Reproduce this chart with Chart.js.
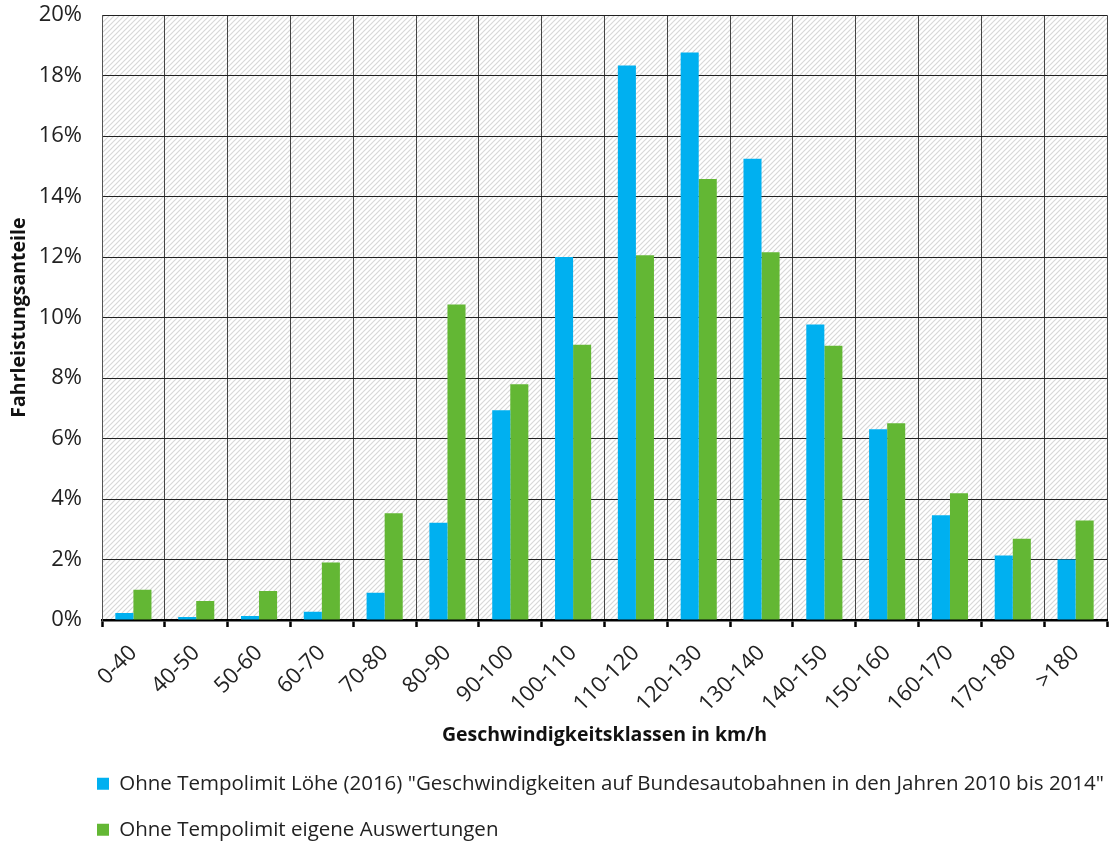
<!DOCTYPE html>
<html>
<head>
<meta charset="utf-8">
<script src="https://cdn.jsdelivr.net/npm/chart.js@4/dist/chart.umd.min.js"></script>
<style>
  html, body { margin: 0; padding: 0; background: #fff; }
  #wrap { width: 1119px; height: 841px; }
</style>
</head>
<body>
<div id="wrap"><canvas id="chart"></canvas></div>
<script>
const categories = ['0-40', '40-50', '50-60', '60-70', '70-80', '80-90', '90-100', '100-110',
    '110-120', '120-130', '130-140', '140-150', '150-160', '160-170', '170-180', '>180'];
const loeheValues = [0.23, 0.1, 0.13, 0.27, 0.9, 3.22, 6.94, 12.0, 18.34, 18.77, 15.25, 9.77, 6.31, 3.46, 2.13, 2.0];
const eigeneValues = [1.0, 0.63, 0.96, 1.9, 3.53, 10.43, 7.8, 9.1, 12.06, 14.58, 12.16, 9.07, 6.51, 4.19, 2.69, 3.29];
const seriesLabels = [
    'Ohne Tempolimit Löhe (2016) "Geschwindigkeiten auf Bundesautobahnen in den Jahren 2010 bis 2014"',
    'Ohne Tempolimit eigene Auswertungen'
];
const yTicks = [0, 2, 4, 6, 8, 10, 12, 14, 16, 18, 20];

const FONT = "'Open Sans', sans-serif";

// diagonal hatch behind the plot area
const makeHatch = (ctx) => {
    const s = 5;
    const c = document.createElement('canvas');
    c.width = s; c.height = s;
    const g = c.getContext('2d');
    g.fillStyle = '#ffffff';
    g.fillRect(0, 0, s, s);
    g.strokeStyle = '#d8d8d8';
    g.lineWidth = 1.2;
    g.beginPath();
    g.moveTo(-1, s + 1); g.lineTo(s + 1, -1);
    g.moveTo(-1, 1); g.lineTo(1, -1);
    g.moveTo(s - 1, s + 1); g.lineTo(s + 1, s - 1);
    g.stroke();
    return ctx.createPattern(c, 'repeat');
};

const hatchPlugin = {
    id: 'hatch',
    beforeDraw(chart) {
        const { ctx, chartArea: a } = chart;
        ctx.save();
        ctx.fillStyle = makeHatch(ctx);
        ctx.fillRect(a.left, a.top, a.right - a.left, a.bottom - a.top);
        ctx.restore();
    }
};

// legend rows start under the plot, not at the canvas edge
const legendShift = {
    id: 'legendShift',
    afterLayout(chart) {
        if (chart.legend) chart.legend.left = 71.5;
    }
};

new Chart(document.getElementById('chart'), {
    type: 'bar',
    data: {
        labels: categories,
        datasets: [
            { label: seriesLabels[0], data: loeheValues, backgroundColor: '#00B0F0' },
            { label: seriesLabels[1], data: eigeneValues, backgroundColor: '#63B734' }
        ]
    },
    options: {
        responsive: true,
        maintainAspectRatio: false,
        animation: false,
        categoryPercentage: 0.575,
        barPercentage: 1.0,
        layout: { padding: { left: 8, right: 12, top: 6, bottom: -9 } },
        plugins: {
            tooltip: { enabled: false },
            legend: {
                position: 'bottom',
                align: 'start',
                labels: {
                    font: { family: FONT, size: 20.5 },
                    color: '#222',
                    boxWidth: 12,
                    boxHeight: 12,
                    padding: 25.5
                }
            }
        },
        scales: {
            x: {
                grid: { color: '#444', lineWidth: 1, tickLength: 7, tickColor: '#000', tickWidth: 2.5, offset: true },
                border: { color: '#000', width: 2.5 },
                ticks: { font: { family: FONT, size: 22 }, color: '#222', maxRotation: 45, minRotation: 45, padding: 13 },
                title: { display: true, text: 'Geschwindigkeitsklassen in km/h', font: { family: FONT, size: 19.5, weight: 'bold' }, color: '#111', padding: { top: 0, bottom: 1 } },
                afterFit: (scale) => { scale.height = 128; }
            },
            y: {
                min: 0,
                max: 20,
                afterBuildTicks: (scale) => { scale.ticks = yTicks.map(v => ({ value: v })); },
                grid: { color: '#222', lineWidth: 1, drawTicks: true, tickLength: 18, tickColor: 'rgba(0,0,0,0)' },
                border: { color: '#555', width: 1 },
                ticks: { font: { family: FONT, size: 22 }, color: '#222', padding: 2, callback: v => v + '%' },
                title: { display: true, text: 'Fahrleistungsanteile', font: { family: FONT, size: 19.5, weight: 'bold' }, color: '#111', padding: 0 },
                afterFit: (scale) => { scale.width = 94; }
            }
        }
    },
    plugins: [hatchPlugin, legendShift]
});
</script>
</body>
</html>
